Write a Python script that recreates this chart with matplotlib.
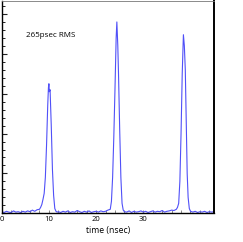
import matplotlib
matplotlib.use('Agg')
import matplotlib.pyplot as plt
from matplotlib.ticker import MultipleLocator

matplotlib.rcParams['font.family'] = ['Open Sans', 'DejaVu Sans']

# histogram of arrival times (nsec) vs counts
time_ns = [0.0, 0.5, 1.0, 1.5, 2.0, 2.5, 3.0, 3.5, 4.0, 4.5, 5.0, 5.5, 6.0, 6.5, 7.0, 7.5,
           8.0, 8.25, 8.5, 8.75, 9.0, 9.25, 9.5, 9.75, 9.9, 10.0, 10.1, 10.25, 10.5, 10.75,
           11.0, 11.25, 11.5, 11.75, 12.0, 12.5, 13.0, 13.5, 14.0, 14.5, 15.0, 15.5, 16.0,
           16.5, 17.0, 17.5, 18.0, 18.5, 19.0, 19.5, 20.0, 20.5, 21.0, 21.5, 22.0, 22.5,
           23.0, 23.25, 23.5, 23.75, 24.0, 24.25, 24.4, 24.6, 24.75, 25.0, 25.25, 25.5,
           25.75, 26.0, 26.5, 27.0, 27.5, 28.0, 28.5, 29.0, 29.5, 30.0, 30.5, 31.0, 31.5,
           32.0, 32.5, 33.0, 33.5, 34.0, 34.5, 35.0, 35.5, 36.0, 36.5, 37.0, 37.25, 37.5,
           37.75, 38.0, 38.25, 38.5, 38.7, 38.9, 39.1, 39.3, 39.5, 39.75, 40.0, 40.5, 41.0,
           41.5, 42.0, 42.5, 43.0, 43.5, 44.0, 44.5, 45.0]
counts = [0.4, 0.2, 0.5, 0.3, 0.2, 0.6, 0.3, 0.4, 0.2, 0.5, 0.3, 0.6, 0.4, 0.8, 0.5, 0.9,
          1.0, 1.5, 2.2, 3.5, 5.0, 9.0, 17.0, 27.0, 31.5, 32.5, 30.5, 31.0, 22.0, 11.0,
          4.5, 1.2, 0.5, 0.3, 0.4, 0.2, 0.5, 0.3, 0.6, 0.2, 0.4, 0.3, 0.7, 0.4, 0.2, 0.5,
          0.3, 0.6, 0.2, 0.4, 0.5, 0.3, 0.6, 0.4, 0.5, 0.8,
          1.0, 3.0, 9.0, 19.0, 31.0, 44.0, 48.0, 42.0, 35.0, 21.0, 9.0, 2.5,
          0.8, 0.4, 0.3, 0.6, 0.2, 0.5, 0.3, 0.4, 0.6, 0.3, 0.5, 0.2, 0.4,
          0.6, 0.3, 0.5, 0.4, 0.7, 0.3, 0.5, 0.6, 0.8, 0.7, 1.0, 1.5, 2.5,
          8.0, 20.0, 35.0, 44.8, 42.0, 36.0, 23.0, 10.0, 4.0, 1.2, 0.5, 0.3, 0.5,
          0.2, 0.4, 0.3, 0.5, 0.2, 0.4, 0.3, 0.4]

label_text = '265psec RMS'

fig = plt.figure(figsize=(2.43, 2.42), dpi=100)
ax = fig.add_axes([0.007, 0.1186, 0.874, 0.878])

ax.plot(time_ns, counts, color='#5050f8', lw=0.8)

ax.set_xlim(0, 45)
ax.set_ylim(0, 53.3)

ax.xaxis.set_major_locator(MultipleLocator(10))
ax.xaxis.set_minor_locator(MultipleLocator(2))
ax.yaxis.set_major_locator(MultipleLocator(10))
ax.yaxis.set_minor_locator(MultipleLocator(2))
ax.set_yticklabels([])
ax.set_xticks([0, 10, 20, 30])

ax.tick_params(axis='y', which='major', direction='in', length=3.5, width=0.8, color='#222222')
ax.tick_params(axis='y', which='minor', direction='in', length=1.8, width=0.7, color='#222222')
ax.tick_params(axis='x', which='both', direction='in', length=2, width=0.7, color='#888888',
               labelsize=5.5, pad=2)

for side in ['left', 'bottom']:
    ax.spines[side].set_linewidth(1.0)
ax.spines['right'].set_linewidth(1.4)
ax.spines['top'].set_linewidth(0.6)
ax.spines['top'].set_color('#777777')

ax.text(0.115, 0.835, label_text, transform=ax.transAxes, fontsize=5.8, va='center')
ax.set_xlabel('time (nsec)', fontsize=6.2, labelpad=2)

plt.savefig('out.png', dpi=100)
